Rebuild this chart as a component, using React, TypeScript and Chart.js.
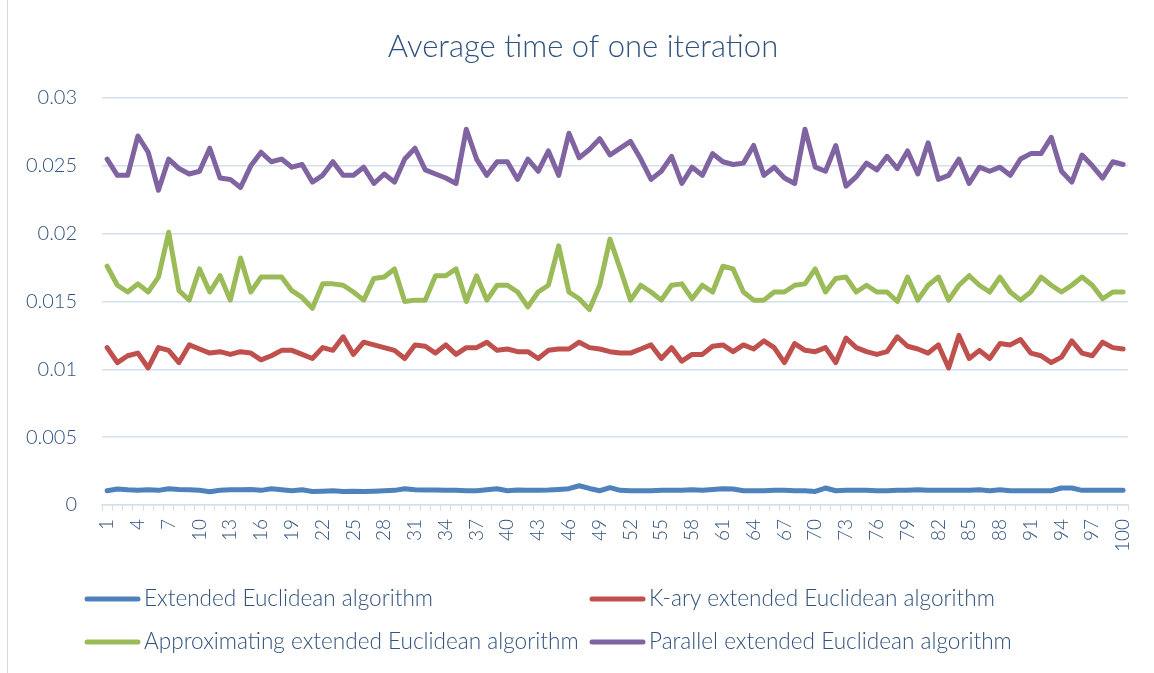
import React, { useEffect, useRef } from "react";
import { Chart, registerables } from "chart.js";

Chart.register(...registerables);

const TITLE = "Average time of one iteration";

const categories: string[] = Array.from({ length: 100 }, (_, i) => String(i + 1));

const seriesNames = [
  "Extended Euclidean algorithm",
  "K-ary extended Euclidean algorithm",
  "Approximating extended Euclidean algorithm",
  "Parallel extended Euclidean algorithm",
];

const seriesColors = ["#4F81BD", "#C0504D", "#9BBB59", "#8064A2"];

const extendedValues = [
  0.00105, 0.00118, 0.00112, 0.00108, 0.00112, 0.00108, 0.0012, 0.00115, 0.00112, 0.00108,
  0.00098, 0.00108, 0.00112, 0.00112, 0.00115, 0.00108, 0.0012, 0.00112, 0.00105, 0.00112,
  0.001, 0.00102, 0.00105, 0.001, 0.00102, 0.001, 0.00102, 0.00105, 0.00108, 0.0012,
  0.00112, 0.0011, 0.0011, 0.00108, 0.00108, 0.00105, 0.00105, 0.00112, 0.0012, 0.00105,
  0.0011, 0.00108, 0.00108, 0.0011, 0.00115, 0.0012, 0.00142, 0.00122, 0.00105, 0.00128,
  0.00108, 0.00105, 0.00105, 0.00105, 0.00108, 0.00108, 0.00108, 0.00112, 0.00108, 0.00115,
  0.0012, 0.00118, 0.00105, 0.00105, 0.00105, 0.00108, 0.00108, 0.00105, 0.00105, 0.001,
  0.00125, 0.00105, 0.00108, 0.00108, 0.00108, 0.00105, 0.00105, 0.00108, 0.00108, 0.00112,
  0.00108, 0.00108, 0.00108, 0.00108, 0.00108, 0.00112, 0.00105, 0.00112, 0.00105, 0.00105,
  0.00105, 0.00105, 0.00105, 0.00125, 0.00125, 0.00108, 0.00108, 0.00108, 0.00108, 0.00108,
];

const karyValues = [
  0.0116, 0.0105, 0.011, 0.0112, 0.0101, 0.0116, 0.0114, 0.0105, 0.0118, 0.0115,
  0.0112, 0.0113, 0.0111, 0.0113, 0.0112, 0.0107, 0.011, 0.0114, 0.0114, 0.0111,
  0.0108, 0.0116, 0.0114, 0.0124, 0.0111, 0.012, 0.0118, 0.0116, 0.0114, 0.0108,
  0.0118, 0.0117, 0.0112, 0.0118, 0.0111, 0.0116, 0.0116, 0.012, 0.0114, 0.0115,
  0.0113, 0.0113, 0.0108, 0.0114, 0.0115, 0.0115, 0.012, 0.0116, 0.0115, 0.0113,
  0.0112, 0.0112, 0.0115, 0.0118, 0.0108, 0.0116, 0.0106, 0.0111, 0.0111, 0.0117,
  0.0118, 0.0113, 0.0118, 0.0115, 0.0121, 0.0116, 0.0105, 0.0119, 0.0114, 0.0113,
  0.0116, 0.0105, 0.0123, 0.0116, 0.0113, 0.0111, 0.0113, 0.0124, 0.0117, 0.0115,
  0.0112, 0.0118, 0.0101, 0.0125, 0.0108, 0.0114, 0.0108, 0.0119, 0.0118, 0.0122,
  0.0112, 0.011, 0.0105, 0.0109, 0.0121, 0.0112, 0.011, 0.012, 0.0116, 0.0115,
];

const approxValues = [
  0.0176, 0.0162, 0.0157, 0.0163, 0.0157, 0.0168, 0.0201, 0.0158, 0.0151, 0.0174,
  0.0157, 0.0169, 0.0151, 0.0182, 0.0157, 0.0168, 0.0168, 0.0168, 0.0158, 0.0153,
  0.0145, 0.0163, 0.0163, 0.0162, 0.0157, 0.0151, 0.0167, 0.0168, 0.0174, 0.015,
  0.0151, 0.0151, 0.0169, 0.0169, 0.0174, 0.015, 0.0169, 0.0151, 0.0162, 0.0162,
  0.0157, 0.0146, 0.0157, 0.0162, 0.0191, 0.0157, 0.0152, 0.0144, 0.0162, 0.0196,
  0.0174, 0.0151, 0.0162, 0.0157, 0.0151, 0.0162, 0.0163, 0.0152, 0.0162, 0.0157,
  0.0176, 0.0174, 0.0157, 0.0151, 0.0151, 0.0157, 0.0157, 0.0162, 0.0163, 0.0174,
  0.0157, 0.0167, 0.0168, 0.0157, 0.0162, 0.0157, 0.0157, 0.015, 0.0168, 0.0151,
  0.0162, 0.0168, 0.0151, 0.0162, 0.0169, 0.0162, 0.0157, 0.0168, 0.0157, 0.0151,
  0.0157, 0.0168, 0.0162, 0.0157, 0.0162, 0.0168, 0.0162, 0.0152, 0.0157, 0.0157,
];

const parallelValues = [
  0.0255, 0.0243, 0.0243, 0.0272, 0.026, 0.0232, 0.0255, 0.0248, 0.0244, 0.0246,
  0.0263, 0.0241, 0.024, 0.0234, 0.025, 0.026, 0.0253, 0.0255, 0.0249, 0.0251,
  0.0238, 0.0243, 0.0253, 0.0243, 0.0243, 0.0249, 0.0237, 0.0244, 0.0238, 0.0255,
  0.0263, 0.0247, 0.0244, 0.0241, 0.0237, 0.0277, 0.0255, 0.0243, 0.0253, 0.0253,
  0.024, 0.0255, 0.0246, 0.0261, 0.0243, 0.0274, 0.0256, 0.0262, 0.027, 0.0258,
  0.0263, 0.0268, 0.0255, 0.024, 0.0246, 0.0257, 0.0237, 0.0249, 0.0243, 0.0259,
  0.0253, 0.0251, 0.0252, 0.0265, 0.0243, 0.0249, 0.0241, 0.0237, 0.0277, 0.0249,
  0.0246, 0.0265, 0.0235, 0.0242, 0.0252, 0.0247, 0.0257, 0.0248, 0.0261, 0.0244,
  0.0267, 0.024, 0.0243, 0.0255, 0.0237, 0.0249, 0.0246, 0.0249, 0.0243, 0.0255,
  0.0259, 0.0259, 0.0271, 0.0246, 0.0238, 0.0258, 0.025, 0.0241, 0.0253, 0.0251,
];

const yMin = 0;
const yMax = 0.03;
const yStep = 0.005;

const TEXT_COLOR = "#30527F";
const GRID_COLOR = "#D5DFEE";
const FONT = "Lato, 'Open Sans', sans-serif";

const titleAndLegend = {
  id: "titleAndLegend",
  afterDraw(chart: any) {
    const ctx = chart.ctx as CanvasRenderingContext2D;
    ctx.save();
    // title
    ctx.fillStyle = TEXT_COLOR;
    ctx.font = `300 31px ${FONT}`;
    ctx.textAlign = "center";
    ctx.textBaseline = "middle";
    ctx.fillText(TITLE, 583, 47);
    // legend in two columns
    const colX = [85, 590];
    const rowY = [599, 642];
    chart.data.datasets.forEach((ds: any, i: number) => {
      const x = colX[i % 2];
      const y = rowY[Math.floor(i / 2)];
      ctx.strokeStyle = ds.borderColor;
      ctx.lineWidth = 5;
      ctx.lineCap = "round";
      ctx.beginPath();
      ctx.moveTo(x + 2, y);
      ctx.lineTo(x + 53, y);
      ctx.stroke();
      ctx.fillStyle = TEXT_COLOR;
      ctx.font = `300 22.6px ${FONT}`;
      ctx.textBaseline = "middle";
      ctx.textAlign = "left";
      ctx.fillText(ds.label, x + 59, y);
    });
    ctx.restore();
  },
};

export default function App() {
  const ref = useRef<HTMLCanvasElement | null>(null);

  useEffect(() => {
    if (!ref.current) return;
    const allSeries = [extendedValues, karyValues, approxValues, parallelValues];
    const chart = new Chart(ref.current, {
      type: "line",
      data: {
        labels: categories,
        datasets: allSeries.map((vals, i) => ({
          label: seriesNames[i],
          data: vals,
          borderColor: seriesColors[i],
          backgroundColor: seriesColors[i],
          borderWidth: 5,
          pointRadius: 0,
          pointHoverRadius: 0,
          tension: 0,
          borderJoinStyle: "round" as const,
          borderCapStyle: "round" as const,
          fill: false,
        })),
      },
      options: {
        responsive: false,
        animation: false,
        events: [],
        layout: { padding: { left: 0, right: 20, top: 98, bottom: 113 } },
        plugins: {
          legend: { display: false },
          tooltip: { enabled: false },
          title: { display: false },
        },
        scales: {
          x: {
            type: "category",
            offset: true,
            grid: {
              display: true,
              drawOnChartArea: false,
              drawTicks: true,
              tickLength: 6,
              color: GRID_COLOR,
              lineWidth: 1,
              offset: true,
            },
            border: { display: true, color: GRID_COLOR, width: 1.5 },
            ticks: {
              autoSkip: false,
              minRotation: 90,
              maxRotation: 90,
              padding: 8,
              color: TEXT_COLOR,
              font: { family: FONT, size: 19, weight: 300 },
              callback: (_v: any, idx: number) => (idx % 3 === 0 ? categories[idx] : ""),
            },
            afterFit: (scale: any) => {
              scale.height = 55;
            },
          },
          y: {
            min: yMin,
            max: yMax,
            grid: { color: GRID_COLOR, lineWidth: 1.5, drawTicks: false },
            border: { display: false },
            ticks: {
              stepSize: yStep,
              padding: 25,
              color: TEXT_COLOR,
              font: { family: FONT, size: 20, weight: 300 },
              callback: (v: any) => String(Number(Number(v).toFixed(3))),
            },
            afterFit: (scale: any) => {
              scale.width = 102;
            },
          },
        },
      },
      plugins: [titleAndLegend],
    });
    return () => chart.destroy();
  }, []);

  return (
    <div style={{ position: "absolute", left: 0, top: 0, width: 1154, height: 673, background: "#fff" }}>
      <div style={{ position: "absolute", left: 7, top: 0, width: 1, height: 673, background: "#D9D9D9" }} />
      <canvas ref={ref} width={1154} height={673} style={{ display: "block", position: "absolute", left: 0, top: 0 }} />
    </div>
  );
}
